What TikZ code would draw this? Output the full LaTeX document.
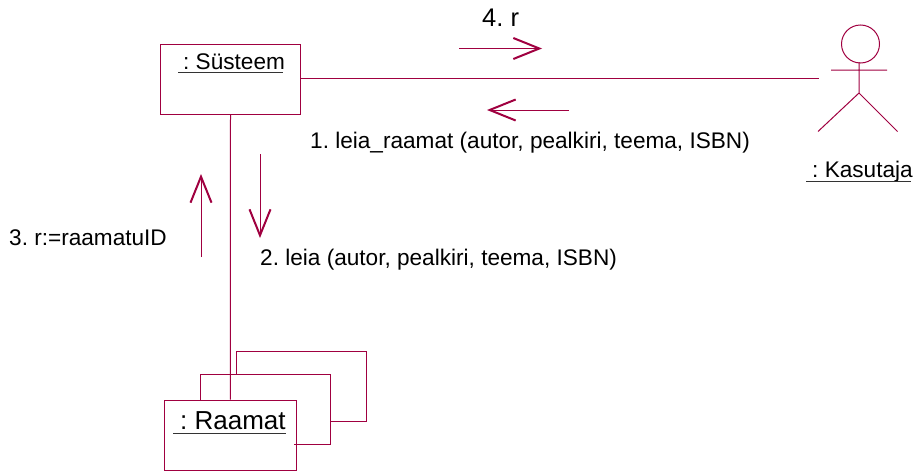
\documentclass[tikz,border=0pt]{standalone}
\usepackage{fontspec}
\setmainfont{Liberation Sans}
\usetikzlibrary{arrows.meta}
\definecolor{umlred}{HTML}{A00040}
\tikzset{
  x=1pt,y=-1pt,
  objbox/.style={draw=umlred,line width=1pt,fill=white,inner sep=0pt,minimum width=#1},
  wire/.style={draw=umlred,line width=1pt},
  msg/.style={draw=umlred,line width=1pt,-{Straight Barb[length=26pt,width=21pt,line width=2pt]}},
  lbl/.style={inner sep=0pt,anchor=base west,text=black,font=\fontsize{22.6}{26}\selectfont},
  uline/.style={draw=black!80,line width=1pt}
}
\begin{document}
\frenchspacing
\begin{tikzpicture}
\useasboundingbox (0,0) rectangle (917,471);
% stacked boxes
\draw[wire] (330,421) -- (366.5,421) -- (366.5,351.5) -- (236.5,351.5) -- (236.5,375);
\node[objbox=129.5pt,minimum height=69.5pt] (mid) at (265.5,409.5) {};
\node[objbox=131.5pt,minimum height=70pt] (raamat) at (230.25,435) {};
\draw[wire] (294,444.5) -- (330,444.5);
\node[objbox=140pt,minimum height=70pt] (sys) at (230.5,79.5) {};
% connectors
\draw[wire] (sys.south) -- (raamat.north);
% actor
\node[circle,draw=umlred,line width=1pt,minimum size=38pt,inner sep=0pt] (head) at (860.5,44) {};
\coordinate (neck) at (859,62);
\coordinate (hip) at (859,93);
\coordinate (armL) at (831,70);
\coordinate (armR) at (887,70);
\coordinate (legL) at (818,131.5);
\coordinate (legR) at (897.5,131.5);
\draw[wire] (neck) -- (hip) (armL) -- (armR) (legL) -- (hip) -- (legR);
\coordinate (actorend) at (819,78.5);
\draw[wire] (sys.east |- actorend) -- (actorend);
% message arrows
\coordinate (m4a) at (459,48.5); \coordinate (m4b) at (542,48.5);
\coordinate (m1a) at (569,110); \coordinate (m1b) at (487,110);
\coordinate (m2a) at (260,154); \coordinate (m2b) at (260,238);
\coordinate (m3a) at (201,257); \coordinate (m3b) at (201,174);
\draw[msg] (m4a) -- (m4b);
\draw[msg] (m1a) -- (m1b);
\draw[msg] (m2a) -- (m2b);
\draw[msg] (m3a) -- (m3b);
% labels
\node[lbl,font=\fontsize{25.5}{29}\selectfont] (t4) at (482,27) {4. r};
\node[lbl] (t1) at (310,148.5) {1. leia\_raamat (autor, pealkiri, teema, ISBN)};
\node[lbl] (t2) at (260,265.5) {2. leia (autor, pealkiri, teema, ISBN)};
\node[lbl] (t3) at (9,245.5) {3. r:=raamatuID};
\node[lbl] (ts) at (183,69.5) {: Süsteem};
\node[lbl,font=\fontsize{26}{30}\selectfont] (tr) at (180,429.5) {: Raamat};
\node[lbl] (tk) at (812,177.5) {: Kasutaja};
\coordinate (us1) at (178,72); \coordinate (us2) at (283,72);
\coordinate (ur1) at (173,433.5); \coordinate (ur2) at (286,433.5);
\coordinate (uk1) at (806,181); \coordinate (uk2) at (911,181);
\draw[uline] (us1) -- (us2) (ur1) -- (ur2) (uk1) -- (uk2);
\end{tikzpicture}
\end{document}
